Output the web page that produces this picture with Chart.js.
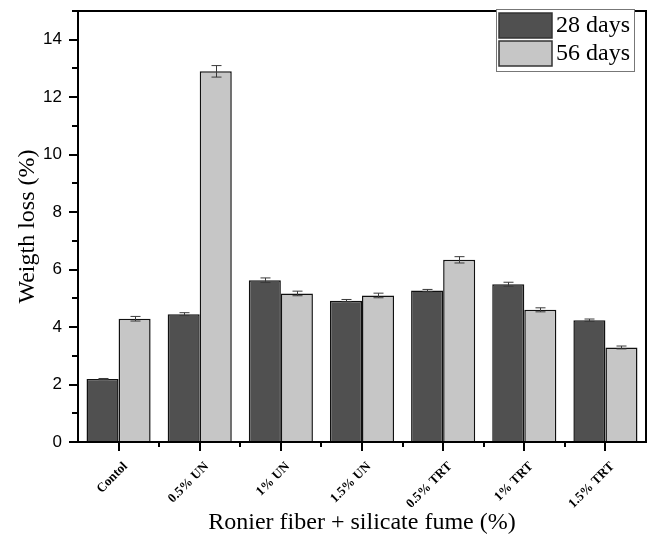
<!DOCTYPE html>
<html>
<head>
<meta charset="utf-8">
<script src="https://cdn.jsdelivr.net/npm/chart.js@4/dist/chart.umd.min.js"></script>
<style>
    html, body { margin: 0; padding: 0; background: #fff; }
    #wrap { width: 652px; height: 539px; }
</style>
</head>
<body>
<div id="wrap"><canvas id="lossChart" width="652" height="539"></canvas></div>
<script>
const categories = ['Contol', '0.5% UN', '1% UN', '1.5% UN', '0.5% TRT', '1% TRT', '1.5% TRT'];
const loss28 = [2.19, 4.45, 5.63, 4.92, 5.27, 5.49, 4.24];
const loss56 = [4.29, 12.90, 5.17, 5.10, 6.34, 4.60, 3.29];
const err28 = [0.02, 0.05, 0.08, 0.04, 0.04, 0.07, 0.04];
const err56 = [0.08, 0.20, 0.08, 0.08, 0.11, 0.07, 0.05];
const yTicks = [0, 2, 4, 6, 8, 10, 12, 14];

const serif = "'Liberation Serif', 'Times New Roman', serif";
const sans = "'Liberation Sans', Arial, sans-serif";

// error bars, frame, tick marks and legend box
const extras = {
    id: 'extras',
    afterDatasetsDraw(chart) {
        const ctx = chart.ctx;
        const y = chart.scales.y;
        ctx.save();
        ctx.lineWidth = 1;
        ctx.strokeStyle = '#3a3a3a';
        chart.data.datasets.forEach((ds, i) => {
            chart.getDatasetMeta(i).data.forEach((bar, j) => {
                const e = ds.errors[j];
                const yHi = y.getPixelForValue(ds.data[j] + e);
                const yLo = y.getPixelForValue(ds.data[j] - e);
                const x = Math.round(bar.x) + 0.5;
                ctx.beginPath();
                ctx.moveTo(x, yHi); ctx.lineTo(x, yLo);
                ctx.moveTo(x - 5, yHi); ctx.lineTo(x + 5, yHi);
                ctx.moveTo(x - 5, yLo); ctx.lineTo(x + 5, yLo);
                ctx.stroke();
            });
        });
        ctx.restore();
    },
    afterDraw(chart) {
        const ctx = chart.ctx;
        const a = chart.chartArea;
        const x = chart.scales.x;
        const y = chart.scales.y;
        ctx.save();
        ctx.strokeStyle = '#000';
        ctx.lineWidth = 2;
        ctx.strokeRect(a.left, a.top, a.right - a.left, a.bottom - a.top);

        // y ticks: long at labels, short in between
        ctx.beginPath();
        for (let v = 0; v <= 15; v++) {
            const py = Math.round(y.getPixelForValue(v));
            const len = v % 2 === 0 ? 9 : 6;
            ctx.moveTo(a.left - len, py); ctx.lineTo(a.left, py);
        }
        // x ticks: long at categories, short at group borders
        categories.forEach((c, i) => {
            const px = Math.round(x.getPixelForValue(i));
            ctx.moveTo(px, a.bottom); ctx.lineTo(px, a.bottom + 9);
            if (i > 0) {
                const bx = Math.round((x.getPixelForValue(i - 1) + x.getPixelForValue(i)) / 2);
                ctx.moveTo(bx, a.bottom); ctx.lineTo(bx, a.bottom + 5);
            }
        });
        ctx.stroke();

        // legend
        const lx = 496, ly = 9, lw = 138, lh = 62;
        ctx.fillStyle = '#fff';
        ctx.fillRect(lx, ly, lw, lh);
        ctx.lineWidth = 1;
        ctx.strokeStyle = '#777';
        ctx.strokeRect(lx + 0.5, ly + 0.5, lw, lh);
        ctx.font = '24px ' + serif;
        ctx.textBaseline = 'middle';
        chart.data.datasets.forEach((ds, i) => {
            const sy = ly + 4 + i * 28;
            ctx.fillStyle = ds.backgroundColor;
            ctx.fillRect(lx + 3, sy, 53, 25);
            ctx.strokeStyle = '#333';
            ctx.lineWidth = 1.5;
            ctx.strokeRect(lx + 3, sy, 53, 25);
            ctx.fillStyle = '#000';
            ctx.fillText(ds.label, lx + 60, sy + 13);
        });
        ctx.restore();
    }
};

new Chart(document.getElementById('lossChart'), {
    type: 'bar',
    data: {
        labels: categories,
        datasets: [{
            label: '28 days',
            data: loss28,
            errors: err28,
            backgroundColor: '#505050',
            borderColor: '#111',
            borderWidth: 1.5
        }, {
            label: '56 days',
            data: loss56,
            errors: err56,
            backgroundColor: '#c6c6c6',
            borderColor: '#111',
            borderWidth: 1.5
        }]
    },
    options: {
        responsive: false,
        animation: false,
        events: [],
        layout: { padding: { top: 11, right: 6, left: 0, bottom: 0 } },
        datasets: { bar: { categoryPercentage: 0.79, barPercentage: 1.0 } },
        plugins: { legend: { display: false }, tooltip: { enabled: false } },
        scales: {
            x: {
                grid: { display: false, drawTicks: false },
                border: { display: false },
                ticks: {
                    color: '#000',
                    font: { family: serif, size: 13, weight: 'bold' },
                    minRotation: 45,
                    maxRotation: 45,
                    padding: 17,
                    labelOffset: 7
                },
                title: {
                    display: true,
                    text: 'Ronier fiber + silicate fume (%)',
                    color: '#000',
                    font: { family: serif, size: 24 },
                    padding: { top: 0, bottom: 2 }
                },
                afterFit(scale) {
                    scale.height = 97;
                    scale.paddingLeft = 0;
                    scale.paddingRight = 0;
                }
            },
            y: {
                min: 0,
                max: 15,
                afterBuildTicks(scale) {
                    scale.ticks = yTicks.map(v => ({ value: v }));
                },
                grid: { display: false, drawTicks: false },
                border: { display: false },
                ticks: {
                    color: '#000',
                    font: { family: sans, size: 17 },
                    padding: 16
                },
                title: {
                    display: true,
                    text: 'Weigth loss (%)',
                    color: '#000',
                    font: { family: serif, size: 24 },
                    padding: { top: 13, bottom: 0 }
                },
                afterFit(scale) {
                    scale.width = 78;
                    scale.paddingTop = 0;
                    scale.paddingBottom = 0;
                }
            }
        }
    },
    plugins: [extras]
});
</script>
</body>
</html>
